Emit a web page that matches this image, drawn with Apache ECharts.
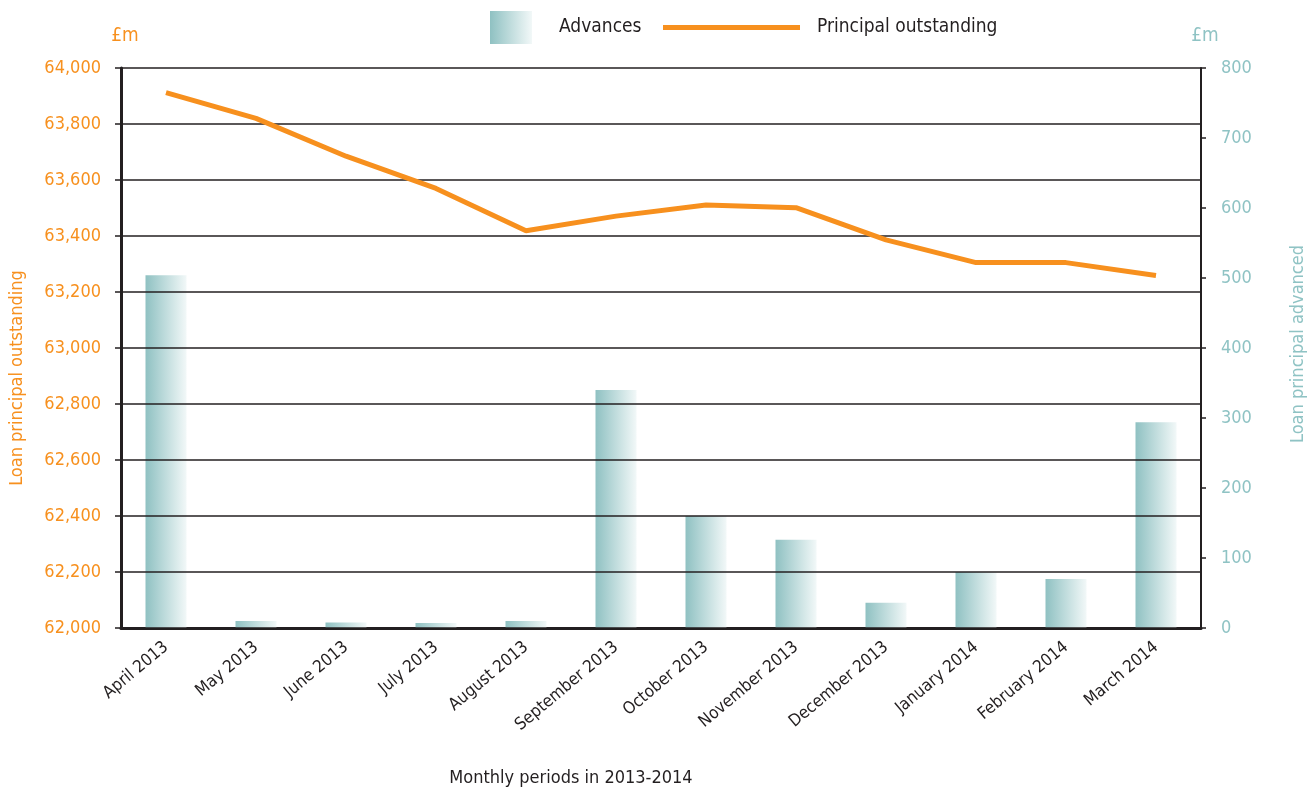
<!DOCTYPE html>
<html><head><meta charset="utf-8">
<script src="https://cdn.jsdelivr.net/npm/echarts@6/dist/echarts.min.js"></script>
<style>html,body{margin:0;padding:0;background:#fff}#c{width:1315px;height:793px}</style>
</head><body><div id="c"></div>
<script>
const categories = ['April 2013','May 2013','June 2013','July 2013','August 2013','September 2013','October 2013','November 2013','December 2013','January 2014','February 2014','March 2014'];
const advances = [504, 10, 8, 7, 10, 340, 160, 126, 36, 80, 70, 294];
const principalOutstanding = [63912, 63820, 63685, 63570, 63419, 63471, 63511, 63501, 63386, 63305, 63305, 63259];
const leftAxisRange = [62000, 64000, 200];
const rightAxisRange = [0, 800, 100];

const FONT = "'DejaVu Sans Condensed', 'Liberation Sans', sans-serif";
const ORANGE = '#f7901e';
const TEAL = '#8fc3c4';
const DARK = '#231f20';
const barGrad = new echarts.graphic.LinearGradient(0, 0, 1, 0, [
  {offset: 0, color: '#8fc1c2'},
  {offset: 1, color: '#f2f8f8'}
]);
function fmt(v){ return String(v).replace(/\B(?=(\d{3})+(?!\d))/g, ','); }

const chart = echarts.init(document.getElementById('c'));
chart.setOption({
  animation: false,
  textStyle: {fontFamily: FONT},
  grid: {left: 121, right: 114, top: 68, bottom: 165, containLabel: false},
  legend: [
    {data: ['Advances'], left: 490, top: 11, padding: 0, icon: 'rect', itemWidth: 42, itemHeight: 33,
     textStyle: {fontFamily: FONT, fontSize: 19, color: DARK, padding: [0,0,0,22]}},
    {data: ['Principal outstanding'], left: 663, top: 18, padding: 0, icon: 'rect', itemWidth: 137, itemHeight: 5,
     textStyle: {fontFamily: FONT, fontSize: 19, color: DARK, padding: [0,0,0,12]}}
  ],
  xAxis: {
    type: 'category', data: categories,
    axisLine: {onZero: false, lineStyle: {color: DARK, width: 3}},
    axisTick: {show: false},
    axisLabel: {interval: 0, rotate: 40, color: DARK, fontSize: 17, margin: 17, fontFamily: FONT}
  },
  yAxis: [
    {type: 'value', position: 'left', min: leftAxisRange[0], max: leftAxisRange[1], interval: leftAxisRange[2], z: 3,
     name: '£m', nameLocation: 'end', nameGap: 22,
     nameTextStyle: {color: ORANGE, fontSize: 19, fontFamily: FONT, padding: [0,0,0,8]},
     axisLine: {show: true, lineStyle: {color: DARK, width: 3}},
     axisTick: {show: true, length: 6, lineStyle: {color: DARK, width: 1.5}},
     axisLabel: {color: ORANGE, fontSize: 18, margin: 20, fontFamily: FONT, formatter: fmt},
     splitLine: {show: true, lineStyle: {color: DARK, width: 1.5}}},
    {type: 'value', position: 'right', min: rightAxisRange[0], max: rightAxisRange[1], interval: rightAxisRange[2], z: 3,
     name: '£m', nameLocation: 'end', nameGap: 22,
     nameTextStyle: {color: TEAL, fontSize: 19, fontFamily: FONT, padding: [0,0,0,8]},
     axisLine: {show: true, lineStyle: {color: DARK, width: 2}},
     axisTick: {show: true, length: 5, lineStyle: {color: DARK, width: 1.5}},
     axisLabel: {color: TEAL, fontSize: 18, margin: 20, fontFamily: FONT},
     splitLine: {show: false}}
  ],
  graphic: [
    {type: 'text', x: 17, y: 378, rotation: Math.PI/2,
     style: {text: 'Loan principal outstanding', fill: ORANGE, font: '18px ' + FONT, align: 'center', verticalAlign: 'middle'}},
    {type: 'text', x: 1298, y: 344, rotation: Math.PI/2,
     style: {text: 'Loan principal advanced', fill: TEAL, font: '18px ' + FONT, align: 'center', verticalAlign: 'middle'}},
    {type: 'text', x: 571, y: 778,
     style: {text: 'Monthly periods in 2013-2014', fill: DARK, font: '18px ' + FONT, align: 'center', verticalAlign: 'middle'}}
  ],
  series: [
    {name: 'Advances', type: 'bar', yAxisIndex: 1, data: advances, barWidth: 41, z: 2,
     itemStyle: {color: barGrad}},
    {name: 'Principal outstanding', type: 'line', yAxisIndex: 0, data: principalOutstanding, z: 5,
     symbol: 'none', lineStyle: {color: ORANGE, width: 5}, itemStyle: {color: ORANGE}}
  ]
});
</script></body></html>
